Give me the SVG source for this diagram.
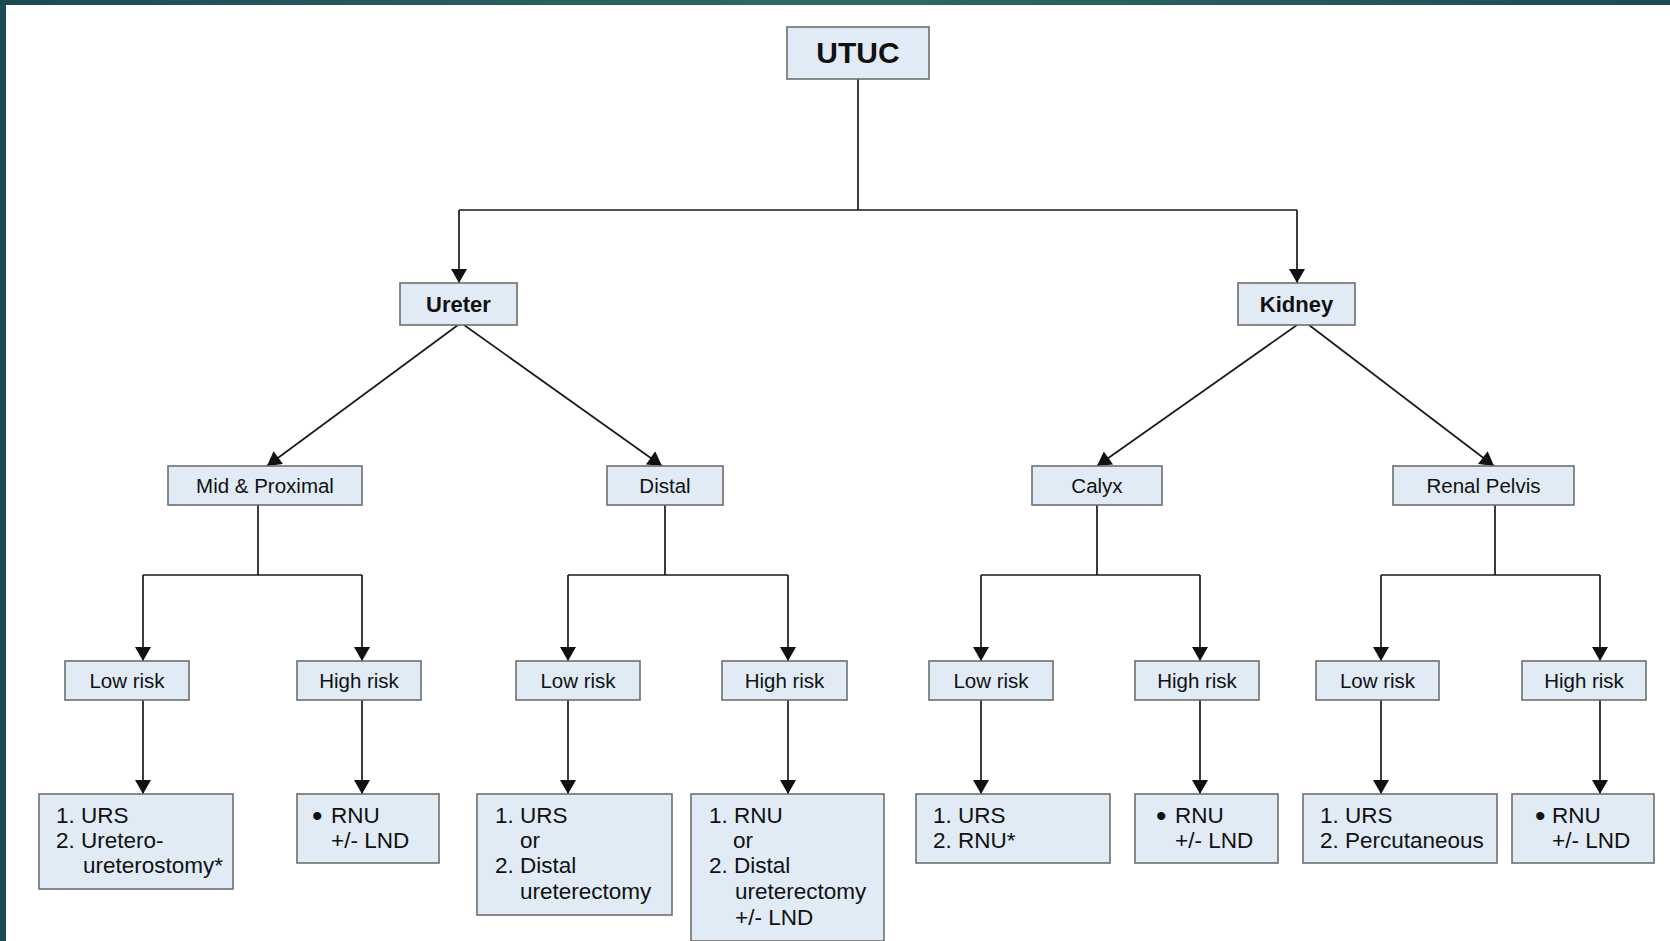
<svg xmlns="http://www.w3.org/2000/svg" width="1670" height="941" viewBox="0 0 1670 941">
  <style>
    .box { fill: #e0ebf5; stroke: #6e6e6e; stroke-width: 1.6; }
    .link { fill: none; stroke: #1a1a1a; stroke-width: 1.7; }
    .arrow { fill: none; stroke: #1a1a1a; stroke-width: 1.7; marker-end: url(#head); }
    text { font-family: "Liberation Sans", Arial, Helvetica, sans-serif; fill: #111; }
    .title { font-size: 30px; font-weight: bold; text-anchor: middle; }
    .branch { font-size: 22px; font-weight: bold; text-anchor: middle; }
    .site { font-size: 20.5px; text-anchor: middle; }
    .risk { font-size: 20.5px; text-anchor: middle; }
    .tx { font-size: 22.5px; }
    .dot { font-size: 30px; }
  </style>
  <defs>
    <linearGradient id="band" x1="0" y1="0" x2="1" y2="0">
      <stop offset="0" stop-color="#1c4a52"/>
      <stop offset="0.5" stop-color="#2f6b66"/>
      <stop offset="1" stop-color="#1c4a52"/>
    </linearGradient>
    <marker id="head" markerUnits="userSpaceOnUse" markerWidth="16" markerHeight="16" viewBox="0 0 14 16" refX="14" refY="8" orient="auto">
      <path d="M0,0 L14,8 L0,16 z" fill="#111"/>
    </marker>
  </defs>

  <!-- page background and frame bands -->
  <rect x="0" y="0" width="1670" height="941" fill="#ffffff"/>
  <rect x="0" y="0" width="1670" height="5" fill="url(#band)"/>
  <rect x="0" y="0" width="6" height="941" fill="#1c4d54"/>

  <!-- connectors -->
  <g id="connectors">
    <!-- root split -->
    <path class="link" d="M858,79 V210 M459,210 H1297"/>
    <path class="arrow" d="M459,210 V283"/>
    <path class="arrow" d="M1297,210 V283"/>
    <!-- ureter / kidney diagonals -->
    <path class="arrow" d="M458,325 L267,466"/>
    <path class="arrow" d="M464,325 L662,466"/>
    <path class="arrow" d="M1297,325 L1097,466"/>
    <path class="arrow" d="M1309,325 L1494,466"/>
    <!-- site forks -->
    <path class="link" d="M258,505 V575 M143,575 H362"/>
    <path class="arrow" d="M143,575 V661"/>
    <path class="arrow" d="M362,575 V661"/>
    <path class="link" d="M665,505 V575 M568,575 H788"/>
    <path class="arrow" d="M568,575 V661"/>
    <path class="arrow" d="M788,575 V661"/>
    <path class="link" d="M1097,505 V575 M981,575 H1200"/>
    <path class="arrow" d="M981,575 V661"/>
    <path class="arrow" d="M1200,575 V661"/>
    <path class="link" d="M1495,505 V575 M1381,575 H1600"/>
    <path class="arrow" d="M1381,575 V661"/>
    <path class="arrow" d="M1600,575 V661"/>
    <!-- risk to treatment -->
    <path class="arrow" d="M143,700 V794"/>
    <path class="arrow" d="M362,700 V794"/>
    <path class="arrow" d="M568,700 V794"/>
    <path class="arrow" d="M788,700 V794"/>
    <path class="arrow" d="M981,700 V794"/>
    <path class="arrow" d="M1200,700 V794"/>
    <path class="arrow" d="M1381,700 V794"/>
    <path class="arrow" d="M1600,700 V794"/>
  </g>

  <!-- root -->
  <g id="utuc">
    <rect class="box" x="787" y="27" width="142" height="52"/>
    <text class="title" x="858" y="63">UTUC</text>
  </g>

  <!-- branches -->
  <g id="ureter">
    <rect class="box" x="400" y="283" width="117" height="42"/>
    <text class="branch" x="458.5" y="312">Ureter</text>
  </g>
  <g id="kidney">
    <rect class="box" x="1238" y="283" width="117" height="42"/>
    <text class="branch" x="1296.5" y="312">Kidney</text>
  </g>

  <!-- sites -->
  <g id="mid-proximal">
    <rect class="box" x="168" y="466" width="194" height="39"/>
    <text class="site" x="265" y="492.5">Mid &amp; Proximal</text>
  </g>
  <g id="distal">
    <rect class="box" x="607" y="466" width="116" height="39"/>
    <text class="site" x="665" y="492.5">Distal</text>
  </g>
  <g id="calyx">
    <rect class="box" x="1032" y="466" width="130" height="39"/>
    <text class="site" x="1097" y="492.5">Calyx</text>
  </g>
  <g id="renal-pelvis">
    <rect class="box" x="1393" y="466" width="181" height="39"/>
    <text class="site" x="1483.5" y="492.5">Renal Pelvis</text>
  </g>

  <!-- risk groups -->
  <g id="mp-low">
    <rect class="box" x="65" y="661" width="124" height="39"/>
    <text class="risk" x="127" y="687.5">Low risk</text>
  </g>
  <g id="mp-high">
    <rect class="box" x="297" y="661" width="124" height="39"/>
    <text class="risk" x="359" y="687.5">High risk</text>
  </g>
  <g id="di-low">
    <rect class="box" x="516" y="661" width="124" height="39"/>
    <text class="risk" x="578" y="687.5">Low risk</text>
  </g>
  <g id="di-high">
    <rect class="box" x="722" y="661" width="125" height="39"/>
    <text class="risk" x="784.5" y="687.5">High risk</text>
  </g>
  <g id="ca-low">
    <rect class="box" x="929" y="661" width="124" height="39"/>
    <text class="risk" x="991" y="687.5">Low risk</text>
  </g>
  <g id="ca-high">
    <rect class="box" x="1135" y="661" width="124" height="39"/>
    <text class="risk" x="1197" y="687.5">High risk</text>
  </g>
  <g id="rp-low">
    <rect class="box" x="1316" y="661" width="123" height="39"/>
    <text class="risk" x="1377.5" y="687.5">Low risk</text>
  </g>
  <g id="rp-high">
    <rect class="box" x="1522" y="661" width="124" height="39"/>
    <text class="risk" x="1584" y="687.5">High risk</text>
  </g>

  <!-- treatments -->
  <g id="mp-low-tx">
    <rect class="box" x="39" y="794" width="194" height="95"/>
    <text class="tx" x="56" y="823">1. URS</text>
    <text class="tx" x="56" y="848">2. Uretero-</text>
    <text class="tx" x="83" y="873">ureterostomy*</text>
  </g>
  <g id="mp-high-tx">
    <rect class="box" x="297" y="794" width="142" height="69"/>
    <text class="dot" x="312" y="826">•</text>
    <text class="tx" x="331" y="823">RNU</text>
    <text class="tx" x="331" y="848">+/- LND</text>
  </g>
  <g id="di-low-tx">
    <rect class="box" x="477" y="794" width="195" height="121"/>
    <text class="tx" x="495" y="823">1. URS</text>
    <text class="tx" x="520" y="848">or</text>
    <text class="tx" x="495" y="873">2. Distal</text>
    <text class="tx" x="520" y="899">ureterectomy</text>
  </g>
  <g id="di-high-tx">
    <rect class="box" x="691" y="794" width="193" height="147"/>
    <text class="tx" x="709" y="823">1. RNU</text>
    <text class="tx" x="733" y="848">or</text>
    <text class="tx" x="709" y="873">2. Distal</text>
    <text class="tx" x="735" y="899">ureterectomy</text>
    <text class="tx" x="735" y="925">+/- LND</text>
  </g>
  <g id="ca-low-tx">
    <rect class="box" x="916" y="794" width="194" height="69"/>
    <text class="tx" x="933" y="823">1. URS</text>
    <text class="tx" x="933" y="848">2. RNU*</text>
  </g>
  <g id="ca-high-tx">
    <rect class="box" x="1135" y="794" width="143" height="69"/>
    <text class="dot" x="1156" y="826">•</text>
    <text class="tx" x="1175" y="823">RNU</text>
    <text class="tx" x="1175" y="848">+/- LND</text>
  </g>
  <g id="rp-low-tx">
    <rect class="box" x="1303" y="794" width="194" height="69"/>
    <text class="tx" x="1320" y="823">1. URS</text>
    <text class="tx" x="1320" y="848">2. Percutaneous</text>
  </g>
  <g id="rp-high-tx">
    <rect class="box" x="1512" y="794" width="142" height="69"/>
    <text class="dot" x="1535" y="826">•</text>
    <text class="tx" x="1552" y="823">RNU</text>
    <text class="tx" x="1552" y="848">+/- LND</text>
  </g>
</svg>
